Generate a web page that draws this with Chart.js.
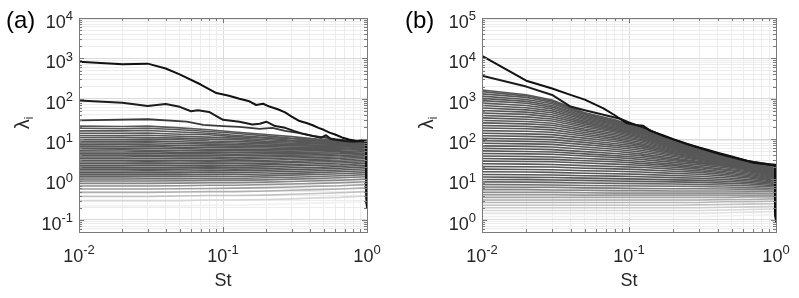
<!DOCTYPE html>
<html>
<head>
<meta charset="utf-8">
<script src="https://cdn.jsdelivr.net/npm/chart.js@4.4.1/dist/chart.umd.min.js"></script>
<style>
body { margin: 0; background: #fff; }
canvas { position: absolute; top: 0; }
</style>
</head>
<body>
<canvas id="chartA" width="400" height="298" style="left:0px"></canvas>
<canvas id="chartB" width="399" height="298" style="left:400px"></canvas>
<script>
// ---- panel (a) ----
const stA1 = [0.01, 0.02, 0.03, 0.04, 0.05, 0.07, 0.09, 0.11, 0.13, 0.15, 0.17, 0.19, 0.21, 0.24, 0.27, 0.3, 0.34, 0.38, 0.42, 0.46, 0.5, 0.55, 0.6, 0.67, 0.75, 0.85, 0.93, 1]
const lamA1 = [830, 720, 740, 560, 400, 225, 138, 118, 100, 88, 70, 75, 64, 55, 46, 36, 28, 25, 22, 19, 17, 14.5, 13, 11, 9.8, 9, 9.4, 8.7]
const stA2 = [0.01, 0.02, 0.03, 0.04, 0.05, 0.06, 0.067, 0.08, 0.1, 0.13, 0.16, 0.18, 0.2, 0.23, 0.27, 0.31, 0.36, 0.42, 0.48, 0.52, 0.56, 0.62, 0.7, 0.8, 0.9, 1]
const lamA2 = [91, 80, 66, 74, 63, 49, 52, 47, 30, 27, 23, 24, 27, 21, 19, 16, 13.5, 12, 10.8, 12.5, 10, 9.5, 9, 8.6, 9, 8.5]
const stA3 = [0.01, 0.03, 0.056, 0.073, 0.1, 0.13, 0.18, 0.22, 0.27, 0.34, 0.42, 0.5, 0.6, 0.75, 0.9, 1]
const lamA3 = [29, 31, 27, 22.5, 21, 20, 18, 19, 16, 14, 12, 11, 10, 9.2, 8.8, 8.5]

const stBandA = [0.01, 0.02, 0.03, 0.05, 0.08, 0.12, 0.2, 0.3, 0.45, 0.65, 0.985, 1]
const bandA = [
  [21, 20.5, 21, 19, 17, 15, 13, 11.5, 10, 9.3, 9, 8],
  [18.5, 18, 18.6, 17, 15.5, 14, 12, 10.5, 9.8, 9, 8.8, 7.4],
  [16, 16, 16.4, 15, 14, 12.5, 11, 10.2, 9.2, 8.8, 8.6, 6.8],
  [14, 14, 14.2, 13.2, 12.8, 11.5, 10.5, 9.4, 9, 8.4, 8.4, 6.2],
  [12.3, 12.2, 12.5, 11.8, 11.2, 10.6, 9.6, 9, 8.4, 8.1, 8.2, 5.7],
  [11, 11, 11, 10.6, 10, 9.8, 8.8, 8.5, 8, 7.8, 8, 5.2],
  [9.8, 9.8, 10, 9.6, 9, 8.8, 8.2, 7.9, 7.6, 7.4, 7.7, 4.8],
  [8.8, 8.8, 9, 8.6, 8.2, 8, 7.6, 7.3, 7.1, 7, 7.4, 4.4],
  [8, 8, 8.1, 7.8, 7.5, 7.3, 7, 6.8, 6.7, 6.6, 7, 4],
  [7.2, 7.3, 7.2, 7, 6.8, 6.7, 6.5, 6.3, 6.3, 6.3, 6.7, 3.7],
  [6.5, 6.5, 6.6, 6.3, 6.2, 6.1, 6, 5.8, 5.9, 5.9, 6.3, 3.4],
  [5.9, 5.9, 5.9, 5.8, 5.6, 5.6, 5.5, 5.4, 5.5, 5.6, 6, 3.1],
  [5.3, 5.4, 5.3, 5.2, 5.1, 5.1, 5.1, 5, 5.2, 5.3, 5.6, 2.8],
  [4.8, 4.8, 4.9, 4.7, 4.7, 4.6, 4.7, 4.7, 4.8, 4.9, 5.2, 2.6],
  [4.4, 4.4, 4.4, 4.3, 4.3, 4.2, 4.3, 4.3, 4.5, 4.6, 4.9, 2.4],
  [4, 4, 4, 3.9, 3.9, 3.9, 3.9, 4, 4.1, 4.3, 4.5, 2.2],
  [3.6, 3.6, 3.7, 3.6, 3.6, 3.5, 3.6, 3.7, 3.8, 3.9, 4.2, 2],
  [3.3, 3.3, 3.3, 3.3, 3.3, 3.2, 3.3, 3.4, 3.5, 3.6, 3.9, 1.8],
  [3, 3, 3, 3, 3, 2.95, 3, 3.1, 3.2, 3.3, 3.6, 1.6],
  [2.7, 2.7, 2.75, 2.7, 2.75, 2.7, 2.75, 2.8, 2.95, 3.05, 3.3, 1.45],
  [2.45, 2.45, 2.5, 2.45, 2.5, 2.45, 2.5, 2.6, 2.7, 2.8, 3, 1.3],
  [2.2, 2.2, 2.25, 2.2, 2.25, 2.2, 2.3, 2.35, 2.45, 2.55, 2.75, 1.15],
  [2, 2, 2, 2, 2.05, 2, 2.05, 2.15, 2.25, 2.3, 2.5, 1],
  [1.8, 1.8, 1.8, 1.8, 1.85, 1.8, 1.85, 1.95, 2, 2.1, 2.25, 0.9],
  [1.62, 1.62, 1.63, 1.62, 1.65, 1.65, 1.7, 1.75, 1.82, 1.9, 2.05, 0.8],
  [1.46, 1.46, 1.46, 1.46, 1.5, 1.48, 1.53, 1.58, 1.65, 1.72, 1.85, 0.7],
  [1.3, 1.3, 1.3, 1.3, 1.33, 1.33, 1.37, 1.42, 1.48, 1.55, 1.65, 0.6],
  [1.16, 1.16, 1.17, 1.17, 1.2, 1.19, 1.23, 1.28, 1.33, 1.39, 1.48, 0.52],
  [1.03, 1.03, 1.04, 1.04, 1.07, 1.06, 1.1, 1.14, 1.19, 1.24, 1.32, 0.45],
  [0.92, 0.92, 0.92, 0.93, 0.95, 0.95, 0.98, 1.02, 1.06, 1.1, 1.17, 0.4],
  [0.8, 0.8, 0.8, 0.81, 0.83, 0.83, 0.86, 0.89, 0.93, 0.96, 1.02, 0.34],
  [0.69, 0.69, 0.69, 0.7, 0.72, 0.72, 0.75, 0.77, 0.8, 0.83, 0.88, 0.3],
  [0.58, 0.58, 0.58, 0.59, 0.6, 0.61, 0.63, 0.65, 0.68, 0.7, 0.75, 0.26],
  [0.48, 0.48, 0.48, 0.49, 0.5, 0.5, 0.52, 0.54, 0.56, 0.58, 0.62, 0.23],
  [0.38, 0.38, 0.38, 0.39, 0.4, 0.4, 0.41, 0.43, 0.45, 0.47, 0.5, 0.21],
  [0.3, 0.3, 0.3, 0.3, 0.31, 0.31, 0.32, 0.33, 0.35, 0.36, 0.39, 0.2],
  [0.22, 0.22, 0.22, 0.22, 0.23, 0.23, 0.24, 0.25, 0.26, 0.27, 0.28, 0.19]
]

// ---- panel (b) ----
const stB1 = [0.01, 0.02, 0.03, 0.04, 0.05, 0.067, 0.08, 0.096, 0.11, 0.125, 0.14, 0.17, 0.2, 0.25, 0.3, 0.35, 0.4, 0.5, 0.6, 0.7, 0.8, 0.9, 1]
const lamB1 = [11500, 2800, 1800, 1250, 950, 580, 390, 250, 225, 215, 160, 125, 100, 76, 62, 53, 46, 37, 31, 26, 24.5, 23.5, 23]
const stB2 = [0.01, 0.02, 0.03, 0.04, 0.05, 0.067, 0.087, 0.1, 0.13, 0.17, 0.25, 0.4, 0.6, 1]
const lamB2 = [3700, 2000, 1240, 640, 520, 400, 320, 260, 185, 120, 74, 44, 30, 22]

const stBandB = [0.01, 0.02, 0.03, 0.05, 0.08, 0.12, 0.2, 0.3, 0.45, 0.65, 0.985, 1]
const bandB = [
  [1650, 1250, 930, 450, 300, 195, 97, 60, 40, 28.5, 23, 15],
  [1500, 1180, 880, 440, 290, 190, 95, 59, 39.5, 28, 23, 12],
  [1320, 1080, 820, 420, 280, 184, 93, 58, 39, 28, 22.5, 10],
  [1160, 960, 750, 400, 268, 177, 91, 57, 38.5, 27.5, 22.5, 8.5],
  [1020, 860, 680, 375, 255, 170, 89, 56, 38, 27, 22, 7],
  [900, 770, 620, 350, 242, 163, 87, 55, 37.5, 27, 22, 6],
  [780, 680, 560, 325, 228, 156, 85, 54, 37, 26.5, 21.5, 5],
  [680, 600, 500, 300, 214, 149, 82, 53, 36.5, 26, 21, 4.3],
  [590, 530, 450, 278, 200, 142, 79, 52, 36, 26, 21, 3.7],
  [510, 465, 400, 256, 187, 135, 76, 51, 35.5, 25.5, 20.5, 3.2],
  [445, 410, 355, 235, 174, 127, 73, 50, 35, 25, 20, 2.8],
  [385, 355, 315, 215, 162, 120, 70, 48.5, 34, 24.5, 19.5, 2.4],
  [335, 310, 280, 196, 150, 112, 67, 47, 33.5, 24, 19, 2.1],
  [290, 272, 248, 178, 138, 105, 64, 45.5, 32.5, 23.5, 18.5, 1.9],
  [252, 238, 220, 162, 127, 98, 61, 44, 32, 23, 18, 1.7],
  [218, 207, 193, 146, 116, 91, 58, 42.5, 31, 22.5, 17.5, 1.55],
  [188, 180, 169, 132, 106, 84, 55, 41, 30, 22, 17, 1.4],
  [162, 156, 148, 119, 96, 77, 52, 39, 29, 21.5, 16.5, 1.3],
  [140, 135, 129, 106, 87, 71, 49, 37, 28, 21, 16, 1.2],
  [121, 117, 112, 94, 78, 65, 46, 35, 27, 20.5, 15.5, 1.1],
  [105, 101, 97, 83, 70, 59, 43, 33.5, 26, 20, 15, 1.05],
  [91, 88, 85, 73, 63, 53, 40, 32, 25, 19.5, 14.5, 1],
  [79, 76, 74, 64, 56, 48, 37, 30, 24, 19, 14, 0.95],
  [68, 66, 64, 56, 50, 43, 34, 28, 23, 18.5, 13.5, 0.9],
  [59, 57, 55, 49, 44, 39, 31.5, 26.5, 22, 18, 13, 0.9],
  [51, 49.5, 48, 43, 39, 35, 29, 25, 21, 17.5, 12.5, 0.9],
  [44, 43, 42, 38, 35, 31.5, 26.5, 23, 19.5, 16.5, 12, 0.9],
  [38, 37, 36, 33, 31, 28, 24, 21, 18, 15.5, 11.5, 0.9],
  [33, 32, 31.5, 29, 27.5, 25, 22, 19.5, 17, 14.5, 11, 0.9],
  [28.5, 28, 27.5, 25.5, 24, 22.5, 20, 18, 15.5, 13.5, 10.5, 0.9],
  [24.5, 24, 23.5, 22, 21, 20, 18, 16.5, 14.5, 12.5, 10, 0.9],
  [21, 20.7, 20.3, 19, 18.3, 17.5, 16, 15, 13.3, 11.7, 9.5, 0.9],
  [18, 17.7, 17.4, 16.5, 16, 15.3, 14.2, 13.5, 12.2, 10.9, 9, 0.9],
  [15.5, 15.3, 15, 14.3, 13.9, 13.4, 12.6, 12, 11, 10, 8.5, 0.9],
  [13.3, 13.1, 12.9, 12.4, 12.1, 11.7, 11.1, 10.7, 10, 9.2, 8, 0.9],
  [11.5, 11.3, 11.2, 10.8, 10.5, 10.2, 9.8, 9.5, 9, 8.4, 7.5, 0.9],
  [10, 9.9, 9.7, 9.4, 9.2, 9, 8.7, 8.5, 8.1, 7.7, 7, 0.9],
  [8.7, 8.6, 8.5, 8.2, 8, 7.9, 7.7, 7.5, 7.3, 7, 6.5, 0.9],
  [7.5, 7.4, 7.3, 7.1, 7, 6.9, 6.8, 6.7, 6.5, 6.3, 6, 0.9],
  [6.5, 6.4, 6.4, 6.2, 6.1, 6, 5.9, 5.9, 5.8, 5.7, 5.5, 0.9],
  [5.6, 5.6, 5.5, 5.4, 5.3, 5.3, 5.2, 5.2, 5.2, 5.1, 5, 0.9],
  [4.8, 4.8, 4.8, 4.7, 4.6, 4.6, 4.6, 4.6, 4.6, 4.6, 4.5, 0.9],
  [4.2, 4.2, 4.2, 4.1, 4.1, 4.1, 4.1, 4.1, 4.1, 4.1, 4.1, 0.9],
  [3.6, 3.6, 3.6, 3.6, 3.6, 3.6, 3.6, 3.6, 3.6, 3.7, 3.7, 0.9],
  [3.1, 3.1, 3.1, 3.1, 3.1, 3.1, 3.1, 3.1, 3.2, 3.2, 3.3, 0.9],
  [2.7, 2.7, 2.7, 2.7, 2.7, 2.7, 2.7, 2.7, 2.8, 2.8, 2.9, 0.9],
  [2.3, 2.3, 2.3, 2.3, 2.3, 2.3, 2.3, 2.35, 2.4, 2.45, 2.5, 0.9],
  [2, 2, 2, 2, 2, 2, 2, 2, 2.05, 2.1, 2.15, 0.9],
  [1.7, 1.7, 1.7, 1.7, 1.7, 1.7, 1.7, 1.7, 1.75, 1.8, 1.85, 0.9],
  [1.45, 1.45, 1.45, 1.45, 1.45, 1.45, 1.45, 1.45, 1.5, 1.55, 1.6, 0.9],
  [1.2, 1.2, 1.2, 1.2, 1.2, 1.2, 1.2, 1.2, 1.25, 1.3, 1.35, 0.9]
]

// axis ticks (powers of ten)
const xExp = [-2, -1, 0]
const yExpA = [-1, 0, 1, 2, 3, 4]
const yExpB = [0, 1, 2, 3, 4, 5]

const FONT = '"Liberation Sans", Arial, sans-serif'

const isPow10 = v => Math.abs(Math.log10(v) - Math.round(Math.log10(v))) < 1e-9

function logGrid(min, max) {
  const vals = []
  for (let e = Math.floor(Math.log10(min)); e <= Math.ceil(Math.log10(max)); e++) {
    for (let m = 1; m < 10; m++) {
      const v = +(m * Math.pow(10, e)).toPrecision(6)
      if (v >= min * 0.999999 && v <= max * 1.000001) vals.push(v)
    }
  }
  return vals
}

const toPoints = (xs, ys) => xs.map((x, i) => ({x, y: ys[i]}))

function bandGray(v0, lo, hi, knee) {
  const t = (Math.log10(v0) - Math.log10(lo)) / (Math.log10(hi) - Math.log10(lo))
  const g = t >= knee ? 88 : Math.round(88 + (knee - t) / knee * 152)
  return `rgb(${g},${g},${g})`
}

function bandSets(xs, rows, knee) {
  const lo = rows[rows.length - 1][0], hi = rows[0][0]
  const last = xs.length - 1
  return rows.map(r => ({
    data: toPoints(xs, r),
    borderColor: bandGray(r[0], lo, hi, knee),
    borderWidth: 1.6,
    segment: {borderColor: c => c.p1DataIndex === last ? '#111' : undefined}
  }))
}

// superscript power-of-ten label, drawn as text
function drawPow(ctx, e, x, baseY, align) {
  const base = '10', exp = String(e)
  ctx.font = '18px ' + FONT
  const wb = ctx.measureText(base).width
  ctx.font = '13px ' + FONT
  const we = ctx.measureText(exp).width
  const left = align === 'right' ? x - wb - we : x - (wb + we) / 2
  ctx.textAlign = 'left'
  ctx.textBaseline = 'alphabetic'
  ctx.font = '18px ' + FONT
  ctx.fillText(base, left, baseY)
  ctx.font = '13px ' + FONT
  ctx.fillText(exp, left + wb, baseY - 7.6)
}

const decor = {
  id: 'decor',
  afterDraw(chart, args, opts) {
    const {ctx, chartArea: a, scales: {x, y}} = chart
    ctx.save()
    // tick marks inside the box
    ctx.strokeStyle = '#7a7a7a'
    ctx.lineWidth = 1
    ctx.beginPath()
    x.ticks.forEach(t => {
      const px = Math.round(x.getPixelForValue(t.value)) + 0.5
      const len = isPow10(t.value) ? 5 : 3
      ctx.moveTo(px, a.bottom); ctx.lineTo(px, a.bottom - len)
      ctx.moveTo(px, a.top); ctx.lineTo(px, a.top + len)
    })
    y.ticks.forEach(t => {
      const py = Math.round(y.getPixelForValue(t.value)) + 0.5
      const len = isPow10(t.value) ? 5 : 3
      ctx.moveTo(a.left, py); ctx.lineTo(a.left + len, py)
      ctx.moveTo(a.right, py); ctx.lineTo(a.right - len, py)
    })
    ctx.stroke()
    ctx.strokeRect(Math.round(a.left) + 0.5, Math.round(a.top) + 0.5, Math.round(a.right - a.left), Math.round(a.bottom - a.top))

    // tick labels
    ctx.fillStyle = '#262626'
    opts.yExp.forEach(e => {
      const py = y.getPixelForValue(Math.pow(10, e))
      drawPow(ctx, e, a.left - 6, py + 10, 'right')
    })
    xExp.forEach(e => {
      const px = x.getPixelForValue(Math.pow(10, e))
      drawPow(ctx, e, px, a.bottom + 29.5, 'center')
    })

    // axis titles
    ctx.textAlign = 'center'
    ctx.font = '18px ' + FONT
    ctx.fillText('St', (a.left + a.right) / 2, 286)

    ctx.save()
    ctx.translate(opts.lamX, 123)
    ctx.rotate(-Math.PI / 2)
    ctx.textAlign = 'left'
    ctx.font = '20px ' + FONT
    const wl = ctx.measureText('λ').width
    ctx.font = '12px ' + FONT
    const wi = ctx.measureText('i').width
    ctx.font = '20px ' + FONT
    ctx.fillText('λ', -(wl + wi) / 2, 0)
    ctx.font = '12px ' + FONT
    ctx.fillText('i', -(wl + wi) / 2 + wl, 4)
    ctx.restore()

    // panel letter
    ctx.textAlign = 'left'
    ctx.fillStyle = '#000'
    ctx.font = '24px ' + FONT
    ctx.fillText(opts.letter, opts.letterX, 28)
    ctx.restore()
  }
}

const gridColor = c => c.tick && isPow10(c.tick.value) ? '#dadada' : '#ececec'

function makeChart(id, datasets, yMin, yMax, opts) {
  return new Chart(document.getElementById(id), {
    type: 'line',
    data: {datasets},
    options: {
      responsive: false,
      animation: false,
      events: [],
      layout: {padding: opts.padding},
      elements: {point: {radius: 0}, line: {tension: 0, borderJoinStyle: 'round'}},
      plugins: {legend: {display: false}, tooltip: {enabled: false}, decor: opts},
      scales: {
        x: {
          type: 'logarithmic', min: 0.01, max: 1,
          afterBuildTicks: s => { s.ticks = logGrid(0.01, 1).map(value => ({value})) },
          afterFit: s => { s.height = 0 },
          ticks: {display: false},
          border: {display: false},
          grid: {drawTicks: false, color: gridColor, lineWidth: 1}
        },
        y: {
          type: 'logarithmic', min: yMin, max: yMax,
          afterBuildTicks: s => { s.ticks = logGrid(yMin, yMax).map(value => ({value})) },
          afterFit: s => { s.width = 0 },
          ticks: {display: false},
          border: {display: false},
          grid: {drawTicks: false, color: gridColor, lineWidth: 1}
        }
      }
    },
    plugins: [decor]
  })
}

const setsA = [
  {data: toPoints(stA1, lamA1), borderColor: '#111', borderWidth: 2},
  {data: toPoints(stA2, lamA2), borderColor: '#1c1c1c', borderWidth: 2},
  {data: toPoints(stA3, lamA3), borderColor: '#3a3a3a', borderWidth: 1.8},
  ...bandSets(stBandA, bandA, 0.4)
]
const setsB = [
  {data: toPoints(stB1, lamB1), borderColor: '#111', borderWidth: 2},
  {data: toPoints(stB2, lamB2), borderColor: '#1c1c1c', borderWidth: 2},
  ...bandSets(stBandB, bandB, 0.3)
]

makeChart('chartA', setsA, 0.05, 1e4, {
  padding: {left: 79, right: 33, top: 18, bottom: 66},
  yExp: yExpA, letter: '(a)', letterX: 6, lamX: 29
})
makeChart('chartB', setsB, 0.5, 1e5, {
  padding: {left: 82, right: 23, top: 18, bottom: 66},
  yExp: yExpB, letter: '(b)', letterX: 5, lamX: 33
})
</script>
</body>
</html>
